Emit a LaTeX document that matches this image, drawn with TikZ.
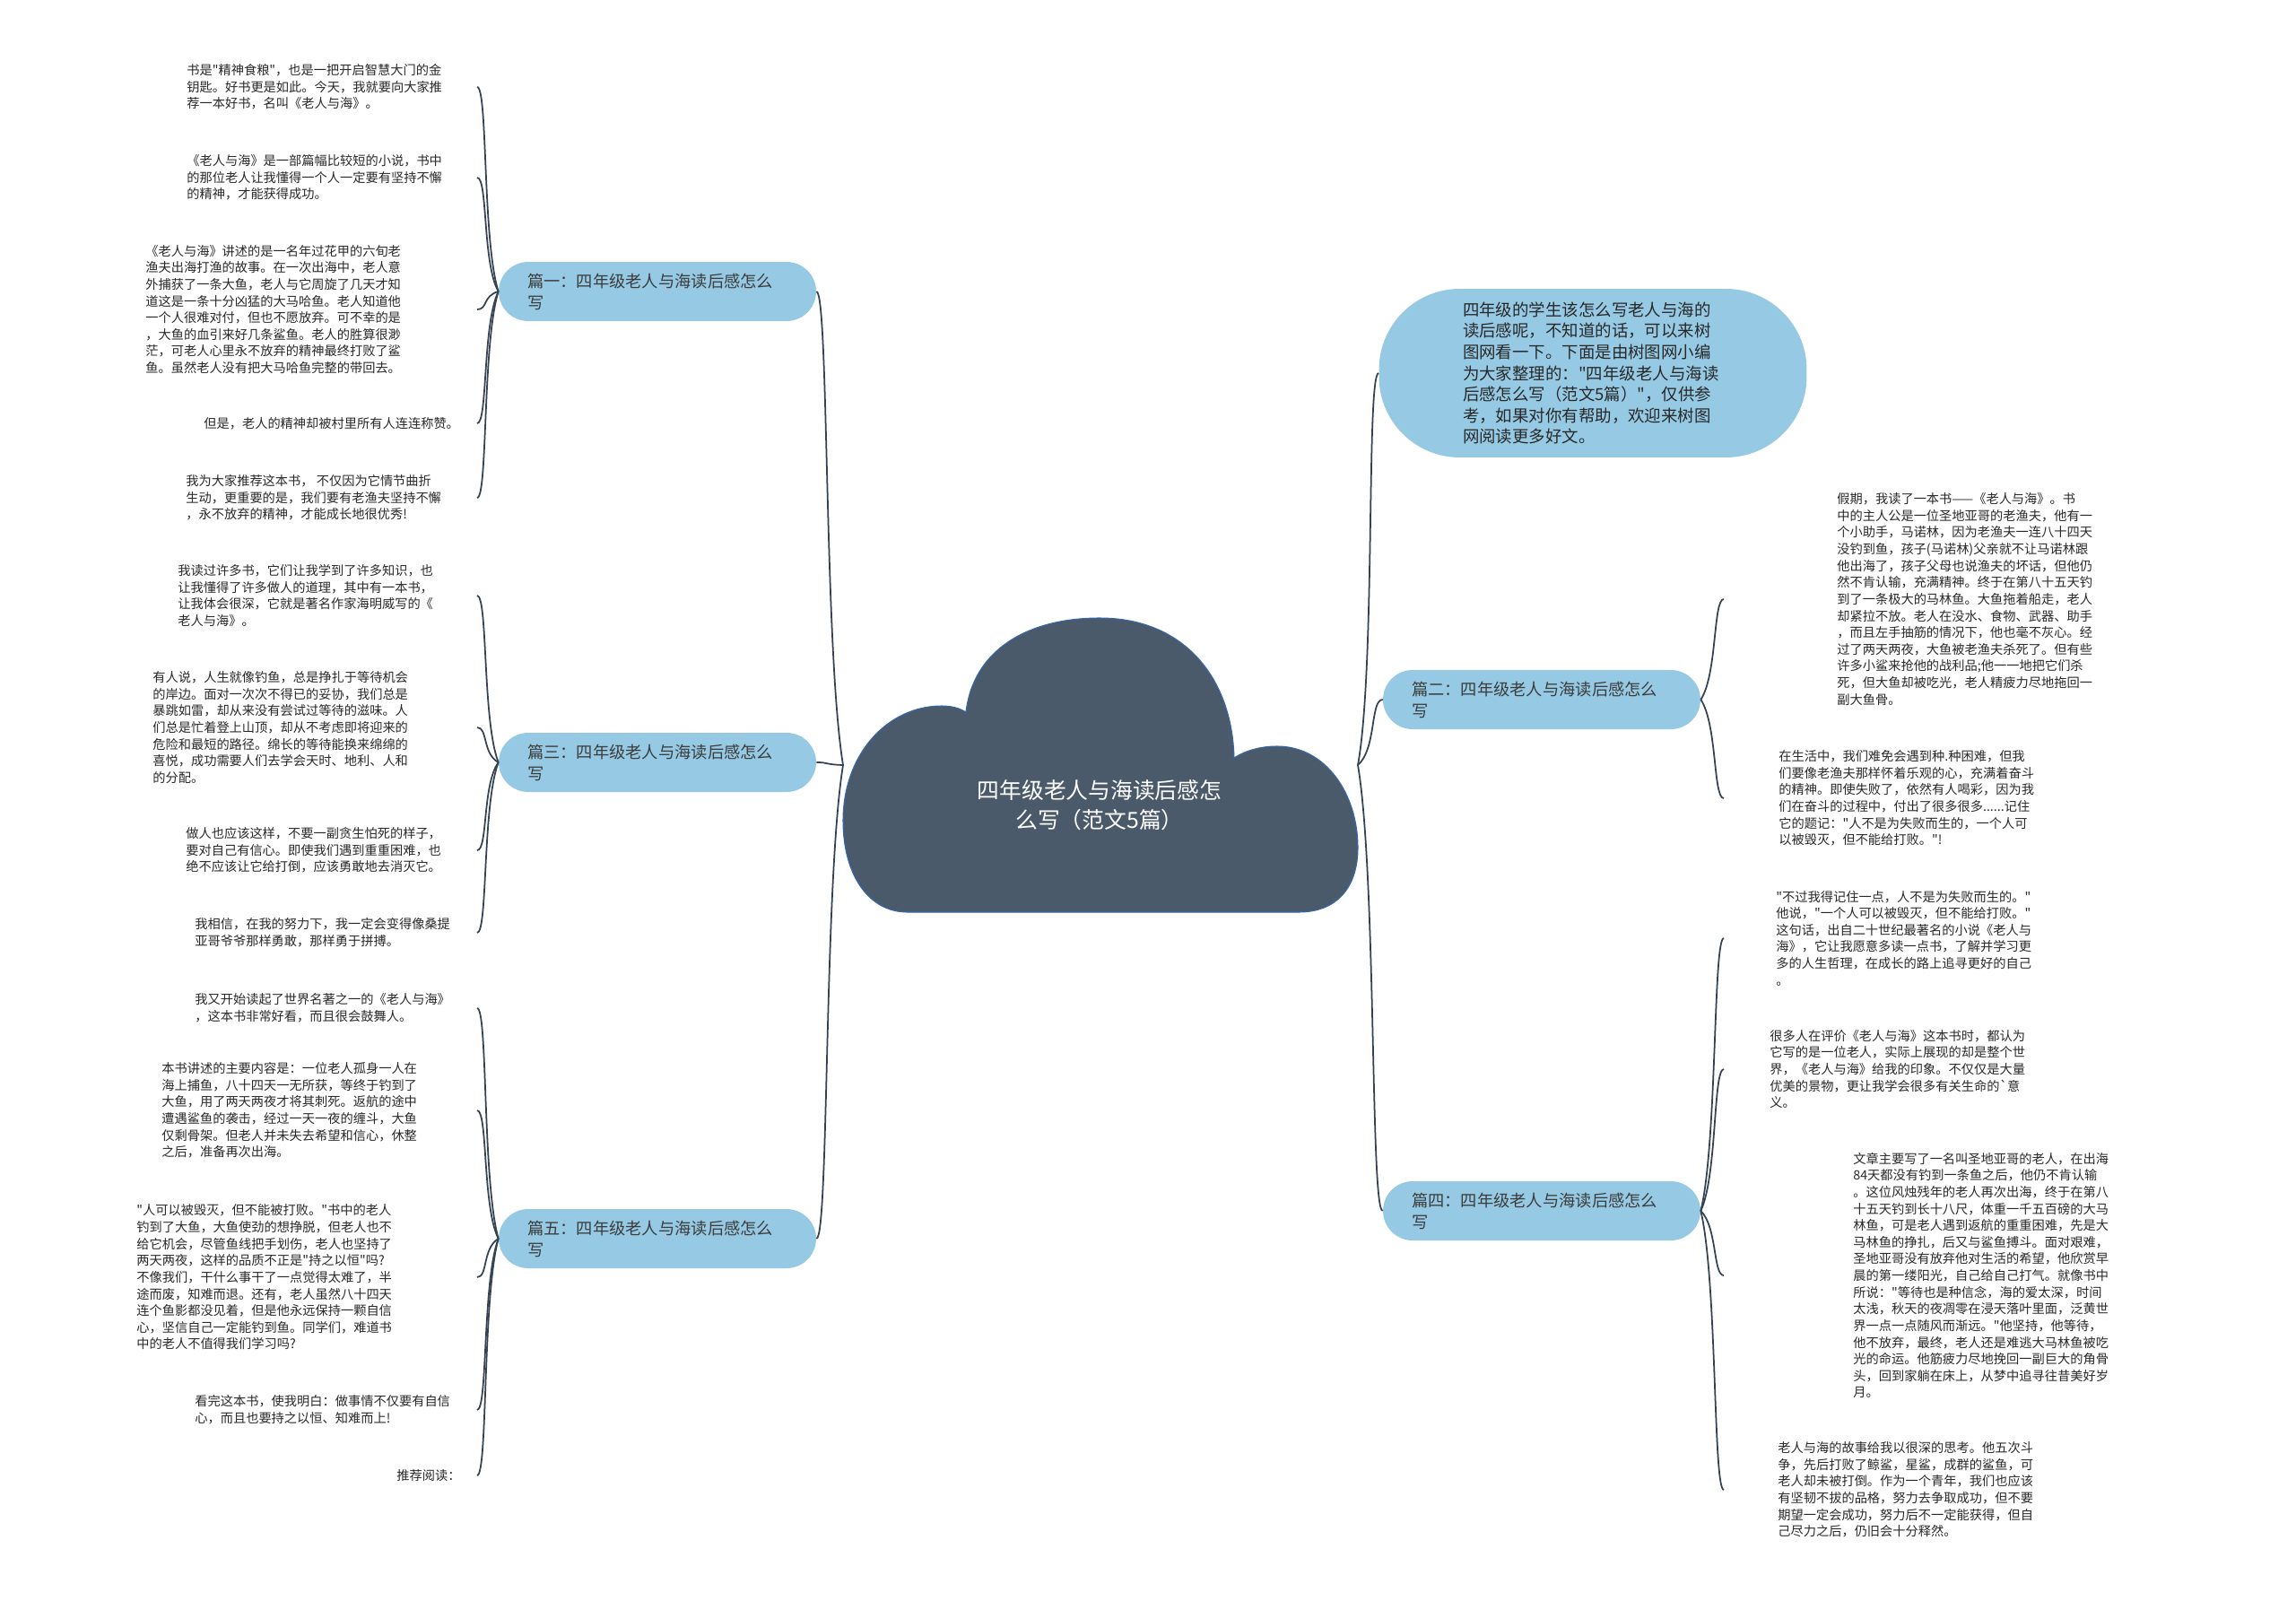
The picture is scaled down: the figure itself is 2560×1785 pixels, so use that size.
\documentclass[tikz,border=0pt]{standalone}
\usepackage{fontspec}
\newfontfamily\cjk{Noto Sans CJK SC}
\usepackage{xcolor}
\usetikzlibrary{calc}

\definecolor{cloudfill}{RGB}{74,90,107}
\definecolor{cloudedge}{RGB}{55,105,170}
\definecolor{topicfill}{RGB}{150,202,228}
\definecolor{topictext}{RGB}{60,60,60}
\definecolor{leaftext}{RGB}{40,40,40}
\definecolor{linkcol}{RGB}{52,66,82}

\begin{document}
\begin{tikzpicture}[
  x=0.02cm, y=-0.02cm,
  leaf/.style={anchor=west, inner sep=0pt, align=left, text=leaftext,
               font=\cjk\fontsize{8.1}{10.6}\selectfont},
  topic/.style={rectangle, fill=topicfill, rounded corners=0.66cm,
                minimum height=1.32cm, text width=5.8cm, inner xsep=0.64cm,
                align=left, text=topictext, font=\cjk\fontsize{10.4}{13.7}\selectfont},
  intro/.style={rectangle, fill=topicfill, rounded corners=1.8cm,
                minimum width=9.54cm, minimum height=3.76cm, text width=5.8cm,
                align=left, text=leaftext, font=\cjk\fontsize{10.5}{13.4}\selectfont},
  rootcloud/.style={fill=cloudfill, draw=cloudedge, line width=0.6pt},
  rootlabel/.style={align=center, text=white, font=\cjk\fontsize{14.1}{18.8}\selectfont},
  link/.style={draw=linkcol, line width=1pt},
  lcurve/.style={to path={.. controls ($(\tikztostart)!0.25!(\tikztotarget)+(-#1,0)$)
                 and ($(\tikztotarget)+(#1,0)$) .. (\tikztotarget)}},
  rcurve/.style={to path={.. controls ($(\tikztostart)!0.25!(\tikztotarget)+(#1,0)$)
                 and ($(\tikztotarget)+(-#1,0)$) .. (\tikztotarget)}}
]
  \useasboundingbox (0,0) rectangle (2560,1785);

  % central cloud
  \path[rootcloud] (1012,1017) .. controls (968,1017) and (940,975) .. (940,915)
    .. controls (940,840) and (990,787) .. (1050,787)
    .. controls (1062,787) and (1071,790) .. (1077,794)
    .. controls (1085,725) and (1145,689) .. (1226,689)
    .. controls (1322,689) and (1374,758) .. (1376,845)
    .. controls (1390,836) and (1407,832) .. (1424,832)
    .. controls (1478,832) and (1514,885) .. (1514,945)
    .. controls (1514,990) and (1490,1017) .. (1448,1017) -- cycle;
  \node[rootlabel] (root) at (1226,898) {四年级老人与海读后感怎\\么写（范文5篇）};
  \coordinate (cl) at (940,853);
  \coordinate (cr) at (1514,853);
  \coordinate (lx) at (532,0);
  \coordinate (rx) at (1922,0);

  % topics
  \node[intro] (intro) at (1776,416) {四年级的学生该怎么写老人与海的\\读后感呢，不知道的话，可以来树\\图网看一下。下面是由树图网小编\\为大家整理的："四年级老人与海读\\后感怎么写（范文5篇）"，仅供参\\考，如果对你有帮助，欢迎来树图\\网阅读更多好文。};
  \node[topic] (b1) at (733,325) {篇一：四年级老人与海读后感怎么\\写};
  \node[topic] (b3) at (733,850) {篇三：四年级老人与海读后感怎么\\写};
  \node[topic] (b5) at (733,1381) {篇五：四年级老人与海读后感怎么\\写};
  \node[topic] (b2) at (1719,780) {篇二：四年级老人与海读后感怎么\\写};
  \node[topic] (b4) at (1719,1350) {篇四：四年级老人与海读后感怎么\\写};

  % left leaves
  \node[leaf] (l1) at (208,97) {书是"精神食粮"，也是一把开启智慧大门的金\\钥匙。好书更是如此。今天，我就要向大家推\\荐一本好书，名叫《老人与海》。};
  \node[leaf] (l2) at (208,198) {《老人与海》是一部篇幅比较短的小说，书中\\的那位老人让我懂得一个人一定要有坚持不懈\\的精神，才能获得成功。};
  \node[leaf] (l3) at (162,345) {《老人与海》讲述的是一名年过花甲的六旬老\\渔夫出海打渔的故事。在一次出海中，老人意\\外捕获了一条大鱼，老人与它周旋了几天才知\\道这是一条十分凶猛的大马哈鱼。老人知道他\\一个人很难对付，但也不愿放弃。可不幸的是\\，大鱼的血引来好几条鲨鱼。老人的胜算很渺\\茫，可老人心里永不放弃的精神最终打败了鲨\\鱼。虽然老人没有把大马哈鱼完整的带回去。};
  \node[leaf] (l4) at (227,472) {但是，老人的精神却被村里所有人连连称赞。};
  \node[leaf] (l5) at (207,555) {我为大家推荐这本书， 不仅因为它情节曲折\\生动，更重要的是，我们要有老渔夫坚持不懈\\，永不放弃的精神，才能成长地很优秀!};
  \node[leaf] (l6) at (198,664) {我读过许多书，它们让我学到了许多知识，也\\让我懂得了许多做人的道理，其中有一本书，\\让我体会很深，它就是著名作家海明威写的《\\老人与海》。};
  \node[leaf] (l7) at (170,811) {有人说，人生就像钓鱼，总是挣扎于等待机会\\的岸边。面对一次次不得已的妥协，我们总是\\暴跳如雷，却从来没有尝试过等待的滋味。人\\们总是忙着登上山顶，却从不考虑即将迎来的\\危险和最短的路径。绵长的等待能换来绵绵的\\喜悦，成功需要人们去学会天时、地利、人和\\的分配。};
  \node[leaf] (l8) at (207,948) {做人也应该这样，不要一副贪生怕死的样子，\\要对自己有信心。即使我们遇到重重困难，也\\绝不应该让它给打倒，应该勇敢地去消灭它。};
  \node[leaf] (l9) at (217,1040) {我相信，在我的努力下，我一定会变得像桑提\\亚哥爷爷那样勇敢，那样勇于拼搏。};
  \node[leaf] (l10) at (217,1124) {我又开始读起了世界名著之一的《老人与海》\\，这本书非常好看，而且很会鼓舞人。};
  \node[leaf] (l11) at (180,1238) {本书讲述的主要内容是：一位老人孤身一人在\\海上捕鱼，八十四天一无所获，等终于钓到了\\大鱼，用了两天两夜才将其刺死。返航的途中\\遭遇鲨鱼的袭击，经过一天一夜的缠斗，大鱼\\仅剩骨架。但老人并未失去希望和信心，休整\\之后，准备再次出海。};
  \node[leaf] (l12) at (152,1424) {"人可以被毁灭，但不能被打败。"书中的老人\\钓到了大鱼，大鱼使劲的想挣脱，但老人也不\\给它机会，尽管鱼线把手划伤，老人也坚持了\\两天两夜，这样的品质不正是"持之以恒"吗?\\不像我们，干什么事干了一点觉得太难了，半\\途而废，知难而退。还有，老人虽然八十四天\\连个鱼影都没见着，但是他永远保持一颗自信\\心，坚信自己一定能钓到鱼。同学们，难道书\\中的老人不值得我们学习吗?};
  \node[leaf] (l13) at (217,1572) {看完这本书，使我明白：做事情不仅要有自信\\心，而且也要持之以恒、知难而上!};
  \node[leaf] (l14) at (442,1645) {推荐阅读：};

  % right leaves
  \node[leaf] (r1) at (2048,668) {假期，我读了一本书——《老人与海》。书\\中的主人公是一位圣地亚哥的老渔夫，他有一\\个小助手，马诺林，因为老渔夫一连八十四天\\没钓到鱼，孩子(马诺林)父亲就不让马诺林跟\\他出海了，孩子父母也说渔夫的坏话，但他仍\\然不肯认输，充满精神。终于在第八十五天钓\\到了一条极大的马林鱼。大鱼拖着船走，老人\\却紧拉不放。老人在没水、食物、武器、助手\\，而且左手抽筋的情况下，他也毫不灰心。经\\过了两天两夜，大鱼被老渔夫杀死了。但有些\\许多小鲨来抢他的战利品;他一一地把它们杀\\死，但大鱼却被吃光，老人精疲力尽地拖回一\\副大鱼骨。};
  \node[leaf] (r2) at (1983,890) {在生活中，我们难免会遇到种.种困难，但我\\们要像老渔夫那样怀着乐观的心，充满着奋斗\\的精神。即使失败了，依然有人喝彩，因为我\\们在奋斗的过程中，付出了很多很多......记住\\它的题记："人不是为失败而生的，一个人可\\以被毁灭，但不能给打败。"!};
  \node[leaf] (r3) at (1980,1046) {"不过我得记住一点，人不是为失败而生的。"\\他说，"一个人可以被毁灭，但不能给打败。"\\这句话，出自二十世纪最著名的小说《老人与\\海》，它让我愿意多读一点书，了解并学习更\\多的人生哲理，在成长的路上追寻更好的自己\\。};
  \node[leaf] (r4) at (1973,1192) {很多人在评价《老人与海》这本书时，都认为\\它写的是一位老人，实际上展现的却是整个世\\界，《老人与海》给我的印象。不仅仅是大量\\优美的景物，更让我学会很多有关生命的`意\\义。};
  \node[leaf] (r5) at (2066,1422) {文章主要写了一名叫圣地亚哥的老人，在出海\\84天都没有钓到一条鱼之后，他仍不肯认输\\。这位风烛残年的老人再次出海，终于在第八\\十五天钓到长十八尺，体重一千五百磅的大马\\林鱼，可是老人遇到返航的重重困难，先是大\\马林鱼的挣扎，后又与鲨鱼搏斗。面对艰难，\\圣地亚哥没有放弃他对生活的希望，他欣赏早\\晨的第一缕阳光，自己给自己打气。就像书中\\所说："等待也是种信念，海的爱太深，时间\\太浅，秋天的夜凋零在浸天落叶里面，泛黄世\\界一点一点随风而渐远。"他坚持，他等待，\\他不放弃，最终，老人还是难逃大马林鱼被吃\\光的命运。他筋疲力尽地挽回一副巨大的角骨\\头，回到家躺在床上，从梦中追寻往昔美好岁\\月。};
  \node[leaf] (r6) at (1982,1661) {老人与海的故事给我以很深的思考。他五次斗\\争，先后打败了鲸鲨，星鲨，成群的鲨鱼，可\\老人却未被打倒。作为一个青年，我们也应该\\有坚韧不拔的品格，努力去争取成功，但不要\\期望一定会成功，努力后不一定能获得，但自\\己尽力之后，仍旧会十分释然。};

  % main links
  \draw[link] (cl) to[lcurve=14] (b1.east);
  \draw[link] (cl) to[lcurve=14] (b3.east);
  \draw[link] (cl) to[lcurve=14] (b5.east);
  \draw[link] (cr) to[rcurve=14] (intro.west);
  \draw[link] (cr) to[rcurve=14] (b2.west);
  \draw[link] (cr) to[rcurve=14] (b4.west);

  % leaf links, left
  \draw[link] (b1.west) to[lcurve=12] (l1.east -| lx);
  \draw[link] (b1.west) to[lcurve=12] (l2.east -| lx);
  \draw[link] (b1.west) to[lcurve=12] (l3.east -| lx);
  \draw[link] (b1.west) to[lcurve=12] (l4.east -| lx);
  \draw[link] (b1.west) to[lcurve=12] (l5.east -| lx);
  \draw[link] (b3.west) to[lcurve=12] (l6.east -| lx);
  \draw[link] (b3.west) to[lcurve=12] (l7.east -| lx);
  \draw[link] (b3.west) to[lcurve=12] (l8.east -| lx);
  \draw[link] (b3.west) to[lcurve=12] (l9.east -| lx);
  \draw[link] (b5.west) to[lcurve=12] (l10.east -| lx);
  \draw[link] (b5.west) to[lcurve=12] (l11.east -| lx);
  \draw[link] (b5.west) to[lcurve=12] (l12.east -| lx);
  \draw[link] (b5.west) to[lcurve=12] (l13.east -| lx);
  \draw[link] (b5.west) to[lcurve=12] (l14.east -| lx);

  % leaf links, right
  \draw[link] (b2.east) to[rcurve=12] (r1.west -| rx);
  \draw[link] (b2.east) to[rcurve=12] (r2.west -| rx);
  \draw[link] (b4.east) to[rcurve=12] (r3.west -| rx);
  \draw[link] (b4.east) to[rcurve=12] (r4.west -| rx);
  \draw[link] (b4.east) to[rcurve=12] (r5.west -| rx);
  \draw[link] (b4.east) to[rcurve=12] (r6.west -| rx);
\end{tikzpicture}
\end{document}
